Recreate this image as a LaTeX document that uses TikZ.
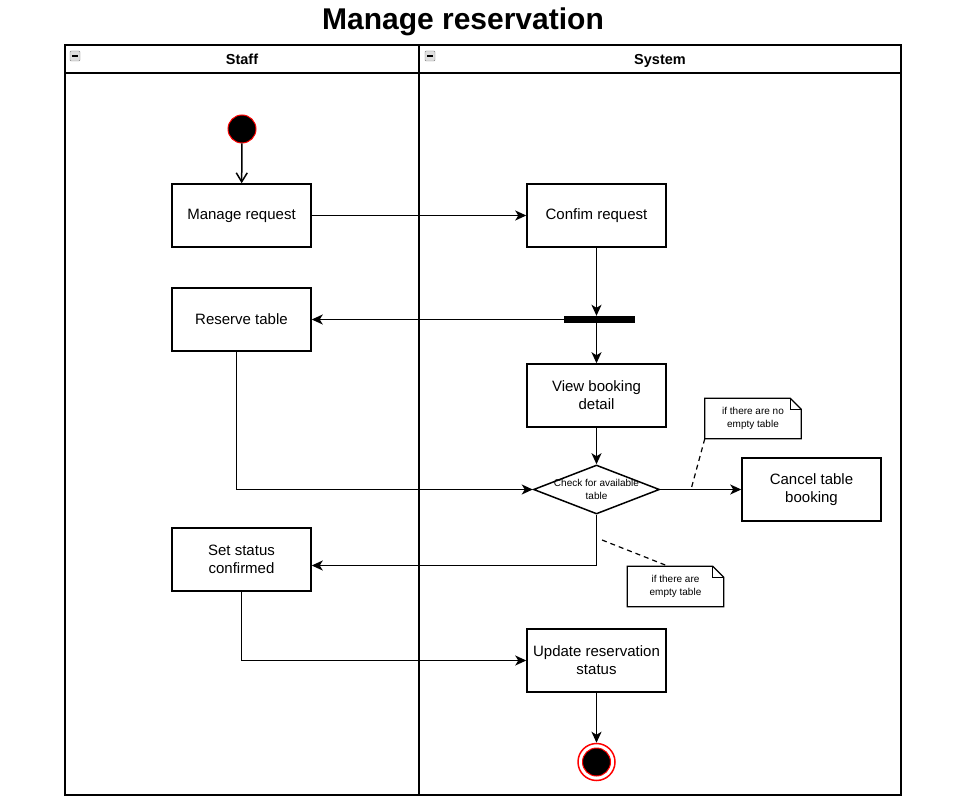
\documentclass[tikz,border=0pt]{standalone}
\usepackage{fontspec}
\setmainfont{Liberation Sans}
\usetikzlibrary{arrows.meta,positioning,shapes.geometric}

\begin{document}
\begin{tikzpicture}[x=1pt, y=-1pt,
    act/.style={draw, line width=1.5pt, minimum width=139pt, minimum height=63pt,
      inner sep=2pt, align=center, font=\fontsize{15}{18}\selectfont},
    note/.style={minimum width=96pt, minimum height=40pt, inner sep=1pt,
      align=center, font=\fontsize{10}{13}\selectfont},
    fold/.style={line width=1.2pt},
    flow/.style={line width=1.5pt, -{Stealth[length=11pt,width=10pt,inset=3pt]}},
    lane/.style={line width=1.5pt},
    head/.style={anchor=base, font=\fontsize{14.5}{17}\selectfont\bfseries}]
  \useasboundingbox (0,0) rectangle (975,810);

  \node[anchor=base, font=\fontsize{30}{36}\selectfont\bfseries] (title) at (463,30) {Manage reservation};

  % pool and lanes
  \draw[lane] (65,45) rectangle (901,795);
  \draw[lane] (65,73) -- (901,73);
  \draw[lane] (419,45) -- (419,795);
  \node[head] (staff) at (242,65) {Staff};
  \node[head] (system) at (660,65) {System};
  \foreach \x in {70,425}{
    \draw[gray, fill=gray!25, rounded corners=1pt] (\x,51) rectangle ++(10,10);
    \draw[line width=1.2pt] (\x+2,56) -- ++(6,0);
  }

  % staff lane
  \node[circle, fill, draw=red, line width=1pt, minimum size=28pt, inner sep=0pt] (start) at (242,129){};
  \node[act] (manage) at (241.5,215.5) {Manage request};
  \node[act] (reserve) at (241.5,319.5) {Reserve table};
  \node[act] (status) at (241.5,559.5) {Set status\\confirmed};

  % system lane
  \node[act] (confirm) at (596.5,215.5) {Confim request};
  \node[fill, minimum width=71pt, minimum height=7pt, inner sep=0pt] (fork) at (599.5,319.5){};
  \node[act] (view) at (596.5,395.5) {View booking\\detail};
  \node[diamond, draw, line width=1.5pt, minimum width=126pt, minimum height=49pt,
    inner sep=0pt] (check) at (596.5,489.5){};
  \node[align=center, font=\fontsize{10}{13}\selectfont] (checktext) at (check) {Check for available\\table};
  \node[act] (cancel) at (811.5,489.5) {Cancel table\\booking};
  \node[act] (update) at (596.5,660.5) {Update reservation\\status};
  \node[circle, draw=red, line width=1.5pt, minimum size=37pt, inner sep=0pt] (final) at (596.5,762){};
  \node[circle, fill, draw=red, line width=1pt, minimum size=28pt, inner sep=0pt] (finaldot) at (final){};

  % notes
  \node[note] (nonote) at (753,418.5) {if there are no\\empty table};
  \draw[fold] (nonote.south west) -- (nonote.south east) -- ([yshift=-11pt]nonote.north east)
    -- ([xshift=-11pt]nonote.north east) -- (nonote.north west) -- cycle;
  \draw[fold] ([xshift=-11pt]nonote.north east) |- ([yshift=-11pt]nonote.north east);
  \node[note] (yesnote) at (675.5,586.5) {if there are\\empty table};
  \draw[fold] (yesnote.south west) -- (yesnote.south east) -- ([yshift=-11pt]yesnote.north east)
    -- ([xshift=-11pt]yesnote.north east) -- (yesnote.north west) -- cycle;
  \draw[fold] ([xshift=-11pt]yesnote.north east) |- ([yshift=-11pt]yesnote.north east);

  % flows
  \draw[line width=1.5pt, -{Straight Barb[length=9pt,width=11pt]}] (start) -- (manage);
  \draw[flow] (manage) -- (confirm);
  \draw[flow] (confirm.south) -- (confirm.south |- fork.north);
  \draw[flow] (fork.west) -- (reserve.east);
  \draw[flow] (view.north |- fork.south) -- (view.north);
  \draw[flow] (view) -- (check);
  \draw[flow] ([xshift=-5pt]reserve.south) |- (check.west);
  \draw[flow] (check.east) -- (cancel.west);
  \draw[flow] (check.south) |- ([yshift=-6pt]status.east);
  \draw[flow] (status.south) |- (update.west);
  \draw[flow] (update) -- (final);

  % note links
  \coordinate (nobranch) at (691,489.5);
  \coordinate (yesbranch) at (602,540);
  \draw[dash pattern=on 5pt off 4pt, line width=1.2pt] (nonote.south west) -- (nobranch);
  \draw[dash pattern=on 5pt off 4pt, line width=1.2pt] (yesbranch) -- ([xshift=-7pt]yesnote.north);
\end{tikzpicture}
\end{document}
